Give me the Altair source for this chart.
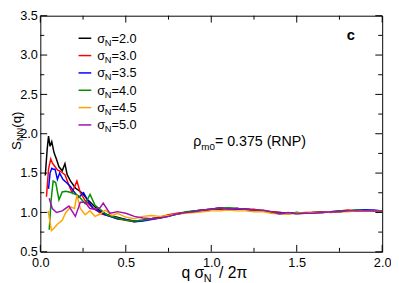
import altair as alt
import pandas as pd

FONT = "Liberation Sans"

SIGMAS = [2.0, 3.0, 3.5, 4.0, 4.5, 5.0]
COLORS = ["#000000", "#ff0000", "#0000ff", "#009000", "#ffa500", "#a010b0"]

X_TICKS = [0.0, 0.5, 1.0, 1.5, 2.0]
X_MINOR = [0.25, 0.75, 1.25, 1.75]
Y_TICKS = [0.5, 1.0, 1.5, 2.0, 2.5, 3.0, 3.5]
Y_MINOR = [0.75, 1.25, 1.75, 2.25, 2.75, 3.25]

Q_TAIL = [0.45, 0.50, 0.55, 0.60, 0.65, 0.70, 0.75, 0.80, 0.85, 0.90, 0.95,
          1.00, 1.05, 1.10, 1.15, 1.20, 1.25, 1.30, 1.35, 1.40, 1.45, 1.50,
          1.55, 1.60, 1.65, 1.70, 1.75, 1.80, 1.85, 1.90, 1.95, 2.00]

# sigma_N = 2.0
Q_20 = [0.029, 0.040, 0.048, 0.057, 0.067, 0.080, 0.094, 0.109, 0.128, 0.144,
        0.157, 0.176, 0.205, 0.243, 0.282, 0.320, 0.368, 0.41]
S_20 = [1.47, 1.80, 1.97, 1.84, 1.90, 1.76, 1.68, 1.58, 1.53, 1.62,
        1.48, 1.40, 1.31, 1.25, 1.15, 1.07, 0.99, 0.96]
T_20 = [0.94, 0.91, 0.89, 0.90, 0.92, 0.94, 0.96, 0.98, 1.00, 1.01, 1.02,
        1.04, 1.04, 1.05, 1.05, 1.04, 1.03, 1.02, 1.01, 1.00, 0.99, 1.00,
        0.99, 1.00, 1.01, 1.01, 1.02, 1.02, 1.02, 1.03, 1.02, 1.02]

# sigma_N = 3.0
Q_30 = [0.036, 0.048, 0.061, 0.070, 0.080, 0.100, 0.119, 0.144, 0.167, 0.186,
        0.214, 0.234, 0.262, 0.31, 0.36, 0.41]
S_30 = [1.20, 1.55, 1.68, 1.63, 1.60, 1.54, 1.52, 1.48, 1.35, 1.25,
        1.40, 1.25, 1.15, 1.05, 0.98, 0.95]
T_30 = [0.92, 0.90, 0.88, 0.90, 0.92, 0.94, 0.97, 0.99, 1.00, 1.02, 1.03,
        1.04, 1.05, 1.04, 1.05, 1.04, 1.04, 1.02, 1.01, 1.00, 0.99, 0.99,
        1.00, 1.00, 1.01, 1.00, 1.02, 1.03, 1.02, 1.02, 1.02, 1.02]

# sigma_N = 3.5
Q_35 = [0.048, 0.057, 0.067, 0.076, 0.086, 0.100, 0.113, 0.132, 0.157, 0.176,
        0.195, 0.224, 0.253, 0.282, 0.31, 0.34, 0.38, 0.42]
S_35 = [1.30, 1.50, 1.56, 1.55, 1.55, 1.42, 1.50, 1.42, 1.37, 1.33,
        1.27, 1.19, 1.25, 1.13, 1.05, 1.02, 0.97, 0.94]
T_35 = [0.92, 0.91, 0.88, 0.89, 0.91, 0.93, 0.95, 0.98, 1.00, 1.02, 1.03,
        1.04, 1.06, 1.05, 1.04, 1.04, 1.03, 1.02, 1.00, 0.99, 0.99, 0.99,
        0.99, 1.00, 1.00, 1.01, 1.01, 1.02, 1.03, 1.03, 1.03, 1.02]

# sigma_N = 4.0
Q_40 = [0.052, 0.063, 0.075, 0.090, 0.109, 0.128, 0.150, 0.186, 0.224, 0.262,
        0.291, 0.32, 0.35, 0.39]
S_40 = [0.78, 1.15, 1.40, 1.38, 1.16, 1.26, 1.27, 1.25, 1.21, 1.11,
        1.23, 1.09, 1.04, 0.97]
T_40 = [0.93, 0.90, 0.89, 0.90, 0.92, 0.93, 0.96, 0.98, 1.01, 1.02, 1.03,
        1.04, 1.05, 1.06, 1.05, 1.04, 1.03, 1.02, 1.00, 0.99, 0.98, 1.00,
        0.99, 1.00, 1.00, 1.01, 1.02, 1.02, 1.03, 1.02, 1.02, 1.02]

# sigma_N = 4.5
Q_45 = [0.046, 0.055, 0.065, 0.080, 0.100, 0.128, 0.147, 0.176, 0.200, 0.214,
        0.234, 0.262, 0.29, 0.32, 0.35, 0.38, 0.42]
S_45 = [1.02, 0.90, 0.77, 0.80, 0.85, 0.90, 0.99, 1.07, 1.05, 1.22,
        1.05, 0.97, 1.02, 0.95, 0.98, 1.03, 0.96]
T_45 = [0.99, 0.94, 0.92, 0.95, 0.96, 0.95, 0.96, 0.98, 0.99, 1.00, 1.01,
        1.02, 1.02, 1.03, 1.02, 1.02, 1.01, 1.01, 0.99, 0.98, 0.98, 0.99,
        0.99, 1.00, 1.00, 1.01, 1.01, 1.01, 1.02, 1.02, 1.02, 1.02]

# sigma_N = 5.0
Q_50 = [0.052, 0.070, 0.095, 0.128, 0.167, 0.205, 0.234, 0.262, 0.29, 0.32,
        0.35, 0.368, 0.406, 0.43]
S_50 = [1.18, 1.05, 1.00, 1.02, 1.08, 0.95, 1.13, 1.13, 1.05, 1.04,
        1.06, 1.12, 0.99, 1.00]
T_50 = [1.01, 0.99, 0.95, 0.93, 0.92, 0.93, 0.95, 0.98, 1.00, 1.01, 1.03,
        1.04, 1.06, 1.04, 1.05, 1.04, 1.03, 1.03, 1.01, 0.98, 1.00, 0.98,
        0.99, 0.99, 1.00, 1.01, 1.01, 1.02, 1.02, 1.02, 1.02, 1.02]

SERIES = [(Q_20, S_20, T_20), (Q_30, S_30, T_30), (Q_35, S_35, T_35),
          (Q_40, S_40, T_40), (Q_45, S_45, T_45), (Q_50, S_50, T_50)]

rows = []
for sig, (qs, ss, ts) in zip(SIGMAS, SERIES):
    qq = list(qs) + Q_TAIL
    vv = list(ss) + ts
    for i, (q, v) in enumerate(zip(qq, vv)):
        rows.append({"series": f"{sig:.1f}", "q": q, "s": v, "i": i})
df = pd.DataFrame(rows)
LABELS = [f"{s:.1f}" for s in SIGMAS]

W, H = 349, 241
xscale = alt.Scale(domain=[0, 2], nice=False, zero=False)
yscale = alt.Scale(domain=[0.5, 3.5], nice=False, zero=False)
xax = alt.Axis(values=X_TICKS, format=".1f", ticks=False, domain=False, grid=False,
               labelPadding=5, title=None, labelFlush=False, labelOverlap=False)
yax = alt.Axis(values=Y_TICKS, format=".1f", ticks=False, domain=False, grid=False,
               labelPadding=3, title=None, labelFlush=False, labelOverlap=False)

lines = alt.Chart(df).mark_line(strokeWidth=1.5, clip=True).encode(
    x=alt.X("q:Q", scale=xscale, axis=xax),
    y=alt.Y("s:Q", scale=yscale, axis=yax),
    color=alt.Color("series:N", scale=alt.Scale(domain=LABELS, range=COLORS), legend=None),
    order="i:Q",
)

layers = [lines]
MAJ, MIN = 7, 4
for vals, ln in ((X_TICKS, MAJ), (X_MINOR, MIN)):
    d = pd.DataFrame({"v": vals})
    layers.append(alt.Chart(d).mark_rule(color="black").encode(
        x=alt.X("v:Q", scale=xscale, axis=xax), y=alt.value(H), y2=alt.value(H - ln)))
    layers.append(alt.Chart(d).mark_rule(color="black").encode(
        x=alt.X("v:Q", scale=xscale, axis=xax), y=alt.value(0), y2=alt.value(ln)))
for vals, ln in ((Y_TICKS, MAJ), (Y_MINOR, MIN)):
    d = pd.DataFrame({"v": vals})
    layers.append(alt.Chart(d).mark_rule(color="black").encode(
        y=alt.Y("v:Q", scale=yscale, axis=yax), x=alt.value(0), x2=alt.value(ln)))
    layers.append(alt.Chart(d).mark_rule(color="black").encode(
        y=alt.Y("v:Q", scale=yscale, axis=yax), x=alt.value(W - ln), x2=alt.value(W)))

ONE = pd.DataFrame({"a": [0]})


def txt(s, x, y, size, angle=0, bold=False, align="left", baseline="alphabetic"):
    return alt.Chart(ONE).mark_text(
        text=s, font=FONT, fontSize=size, align=align, baseline=baseline,
        angle=angle, fontWeight="bold" if bold else "normal", color="black"
    ).encode(x=alt.value(x), y=alt.value(y))


# legend
for k, (sig, col) in enumerate(zip(SIGMAS, COLORS)):
    yy = 23 + k * 17.7
    layers.append(alt.Chart(ONE).mark_rule(color=col, strokeWidth=1.5).encode(
        x=alt.value(39), x2=alt.value(52), y=alt.value(yy)))
    layers.append(txt("σ", 58, yy + 4.5, 13))
    layers.append(txt("N", 65.8, yy + 7.5, 9.5))
    layers.append(txt(f"={sig:.1f}", 72.7, yy + 4.5, 13))

# panel letter
layers.append(txt("c", 317, 20, 15, bold=True, align="center", baseline="middle"))

# density annotation
layers.append(txt("ρ", 156, 133, 14.5))
layers.append(txt("m0", 164.4, 137, 10))
layers.append(txt("= 0.375 (RNP)", 178.3, 133, 14.5))

# x title
layers.append(txt("q σ", 144, 268, 16))
layers.append(txt("N", 166.9, 272, 11))
layers.append(txt("/ 2π", 182.5, 268, 16))

# y title (rotated)
layers.append(txt("S", -20, 137, 13.5, angle=270))
layers.append(txt("NN", -17.5, 128, 9.5, angle=270))
layers.append(txt("(q)", -20, 114.3, 13.5, angle=270))

chart = alt.layer(*layers).properties(
    width=W, height=H,
    autosize=alt.AutoSizeParams(type="none"),
    padding={"left": 33, "top": 5, "right": 9, "bottom": 29},
).configure_view(stroke="black", strokeWidth=1).configure_axis(
    labelFont=FONT, labelFontSize=13, labelColor="black"
)

chart.save("out.html", embed_options={"renderer": "svg", "actions": False})
